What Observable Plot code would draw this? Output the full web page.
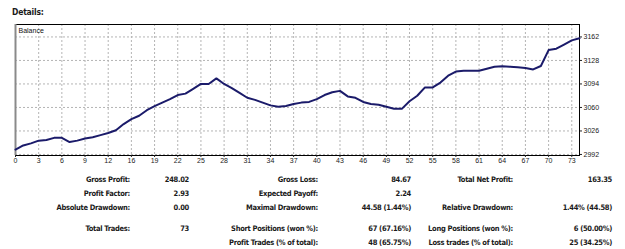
<!DOCTYPE html>
<html>
<head>
<meta charset="utf-8">
<script src="https://cdn.jsdelivr.net/npm/d3@7"></script>
<script src="https://cdn.jsdelivr.net/npm/@observablehq/plot@0.6"></script>
<style>
  html, body { margin: 0; padding: 0; background: #fff; }
  #wrap { position: relative; width: 625px; height: 249px; overflow: hidden; font-family: "DejaVu Sans Condensed", "DejaVu Sans", sans-serif; color: #1a1a1a; }
  #title { position: absolute; left: 12px; top: 6px; font-weight: bold; font-size: 8.5px; line-height: 12px; letter-spacing: -0.2px; }
  #chart { position: absolute; left: 0; top: 0; }
  .st { position: absolute; height: 14px; line-height: 14px; font-size: 7.5px; font-weight: bold; white-space: nowrap; text-align: right; letter-spacing: -0.3px; }
</style>
</head>
<body>
<div id="wrap">
  <div id="chart"></div>
  <div id="title">Details:</div>
</div>
<script>
// Balance after each trade (trade index 0..73)
const balance = [
  2999, 3005, 3008, 3012, 3013, 3016, 3016, 3010, 3012, 3015,
  3017, 3020, 3023, 3027, 3036, 3043, 3048, 3056, 3062, 3067,
  3072, 3078, 3080, 3087, 3094, 3094, 3102, 3094, 3088, 3081,
  3074, 3071, 3067, 3063, 3061, 3062, 3065, 3067, 3068, 3072,
  3078, 3082, 3084, 3076, 3074, 3068, 3065, 3064, 3061, 3058,
  3058, 3069, 3077, 3089, 3089, 3096, 3106, 3112, 3113, 3113,
  3113, 3116, 3119, 3119.5, 3119, 3118, 3117, 3115, 3120, 3143,
  3145, 3151, 3157, 3160
];
const xTickLabels = [0, 3, 6, 9, 12, 16, 19, 22, 25, 28, 31, 34, 37, 40, 43, 46, 49, 52, 55, 58, 61, 64, 67, 70, 73];
const yTicks = [2992, 3026, 3060, 3094, 3128, 3162];
const seriesName = "Balance";

// Statistics table
const statLabels = [
  ["Gross Profit:", "Gross Loss:", "Total Net Profit:"],
  ["Profit Factor:", "Expected Payoff:", ""],
  ["Absolute Drawdown:", "Maximal Drawdown:", "Relative Drawdown:"],
  ["Total Trades:", "Short Positions (won %):", "Long Positions (won %):"],
  ["", "Profit Trades (% of total):", "Loss trades (% of total):"]
];
const statValues = [
  ["248.02", "84.67", "163.35"],
  ["2.93", "2.24", ""],
  ["0.00", "44.58 (1.44%)", "1.44% (44.58)"],
  ["73", "67 (67.16%)", "6 (50.00%)"],
  ["", "48 (65.75%)", "25 (34.25%)"]
];

const data = balance.map((v, i) => ({trade: i, balance: v}));
const xTickPos = xTickLabels.map((_, k) => k * 3);

const chart = Plot.plot({
  width: 625,
  height: 170,
  marginTop: 24,
  marginBottom: 15,
  marginLeft: 15,
  marginRight: 46,
  style: {fontFamily: "'Liberation Sans', Arial, sans-serif", fontSize: "7px", color: "#222", background: "transparent"},
  x: {domain: [0, 73]},
  y: {domain: [2990.5, 3180]},
  marks: [
    Plot.gridX(xTickPos, {stroke: "#b4b4b4", strokeOpacity: 1, strokeDasharray: "2,2"}),
    Plot.gridY(yTicks, {stroke: "#b4b4b4", strokeOpacity: 1, strokeDasharray: "2,2"}),
    Plot.frame({stroke: "#000", strokeWidth: 1}),
    Plot.ruleX([0], {stroke: "#8a8a8a", strokeWidth: 2}),
    Plot.axisX(xTickPos, {anchor: "bottom", tickSize: 2, tickPadding: 1, tickFormat: d => String(xTickLabels[Math.round(d / 3)]), label: null}),
    Plot.axisY(yTicks, {anchor: "right", tickSize: 2, tickPadding: 2, tickFormat: d => String(d), label: null}),
    Plot.line(data, {x: "trade", y: "balance", stroke: "#1b1b6a", strokeWidth: 2, strokeLinejoin: "round"}),
    Plot.text([seriesName], {frameAnchor: "top-left", dx: 3, dy: 4, fontSize: 7, fill: "#111"})
  ]
});
document.getElementById("chart").appendChild(chart);

// stats layout
const rowCenters = [180, 194, 208, 228.5, 242.5];
const labelRight = [130, 318, 513];
const valueRight = [189, 411, 612];
const wrap = document.getElementById("wrap");
statLabels.forEach((row, r) => {
  row.forEach((lab, c) => {
    if (lab) {
      const d = document.createElement("div");
      d.className = "st";
      d.textContent = lab;
      d.style.right = (625 - labelRight[c]) + "px";
      d.style.top = (rowCenters[r] - 7) + "px";
      wrap.appendChild(d);
    }
    const val = statValues[r][c];
    if (val) {
      const e = document.createElement("div");
      e.className = "st";
      e.textContent = val;
      e.style.right = (625 - valueRight[c]) + "px";
      e.style.top = (rowCenters[r] - 7) + "px";
      wrap.appendChild(e);
    }
  });
});
</script>
</body>
</html>
